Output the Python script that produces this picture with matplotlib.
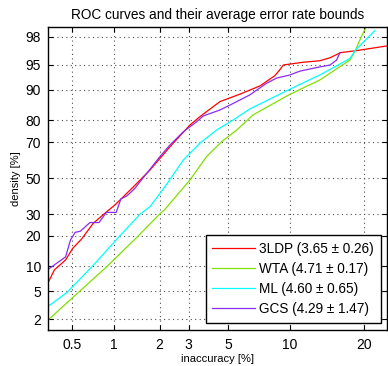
# -*- coding: utf-8 -*-
"""ROC curves on probit (normal deviate) axes, 4 methods."""
import math
from statistics import NormalDist
import numpy as np
import matplotlib
matplotlib.use('Agg')
import matplotlib.pyplot as plt

# --- data (percent) ---
ldp_x = [0.33, 0.37, 0.45, 0.51, 0.59, 0.72, 0.89, 1.02, 1.36, 1.74, 2.32, 3.05, 3.48,
         4.5, 5.75, 7.25, 8.56, 9.0, 9.36, 11.5, 13.5, 14.9, 16.4, 18.7, 24.5]
ldp_y = [6.4, 9.1, 11.7, 15.4, 18.7, 25.6, 31.1, 34.8, 45.0, 54.7, 67.6, 78.0, 81.4,
         86.7, 88.9, 91.0, 93.2, 94.2, 95.0, 95.4, 95.6, 96.0, 96.6, 96.8, 97.3]

wta_x = [0.33, 0.5, 0.89, 1.46, 2.0, 2.16, 3.05, 3.8, 4.6, 5.53, 6.7, 9.93, 13.5,
         17.8, 18.7, 19.6, 20.6]
wta_y = [1.95, 4.0, 9.8, 20.0, 30.0, 32.5, 48.9, 62.3, 70.2, 75.8, 82.1, 88.7, 92.3,
         95.7, 96.9, 98.0, 98.7]

ml_x = [0.33, 0.46, 0.70, 1.10, 1.50, 1.74, 2.16, 2.79, 3.48, 4.32, 5.3, 6.46, 9.86,
        13.5, 17.8, 18.7, 21.9]
ml_y = [3.1, 4.8, 9.8, 20.0, 30.0, 33.9, 45.0, 60.4, 69.4, 75.8, 80.1, 84.3, 90.0,
        93.3, 95.9, 96.9, 98.4]

gcs_x = [0.33, 0.45, 0.49, 0.53, 0.58, 0.68, 0.79, 0.89, 1.04, 1.12, 1.23, 1.39, 1.50,
         1.74, 2.01, 2.32, 2.79, 3.34, 3.64, 4.5, 5.1, 6.46, 7.8, 8.7, 10.0, 11.1,
         13.1, 14.9, 15.8, 16.3]
gcs_y = [9.2, 12.6, 18.4, 21.5, 22.0, 25.9, 25.9, 30.9, 30.9, 38.1, 39.8, 44.1, 47.9,
         55.1, 62.3, 68.5, 75.0, 79.4, 81.7, 83.9, 85.6, 88.7, 91.6, 92.7, 93.3, 94.0,
         94.6, 95.0, 95.7, 96.6]

labels = ['3LDP (3.65 ± 0.26)', 'WTA (4.71 ± 0.17)',
          'ML (4.60 ± 0.65)', 'GCS (4.29 ± 1.47)']
colors = ['#ff0000', '#80e000', '#00ffff', '#8c2cf0']

xticks = [0.5, 1, 2, 3, 5, 10, 20]
xticklabels = ['0.5', '1', '2', '3', '5', '10', '20']
yticks = [2, 5, 10, 20, 30, 50, 70, 80, 90, 95, 98]

# --- probit scale ---
_nd = NormalDist()
_ppf = np.vectorize(_nd.inv_cdf, otypes=[float])
_erf = np.vectorize(math.erf, otypes=[float])


def to_probit(p):
    p = np.clip(np.asarray(p, dtype=float) / 100.0, 1e-9, 1 - 1e-9)
    return _ppf(p)


def from_probit(z):
    z = np.asarray(z, dtype=float)
    return 100.0 * 0.5 * (1.0 + _erf(z / math.sqrt(2.0)))


plt.rcParams['font.family'] = ['Liberation Sans', 'DejaVu Sans']

fig = plt.figure(figsize=(3.88, 3.66), dpi=100)
ax = fig.add_axes([48 / 388, 1 - 330 / 366, 339 / 388, 303 / 366])
ax.set_xscale('function', functions=(to_probit, from_probit))
ax.set_yscale('function', functions=(to_probit, from_probit))

for xs, ys, c, lab in zip([ldp_x, wta_x, ml_x, gcs_x], [ldp_y, wta_y, ml_y, gcs_y],
                          colors, labels):
    ax.plot(xs, ys, color=c, lw=0.9, label=lab)

ax.set_xlim(0.33, 24.1)
ax.set_ylim(1.36, 98.6)
ax.set_xticks(xticks)
ax.set_xticklabels(xticklabels)
ax.set_yticks(yticks)
ax.set_yticklabels([str(t) for t in yticks])
ax.minorticks_off()

ax.grid(True, color='0.3', linestyle=(0, (1, 3)), lw=0.8)
ax.tick_params(direction='in', top=True, right=True, length=3.5, width=0.8,
               labelsize=10)
ax.tick_params(axis='x', pad=6)
ax.tick_params(axis='y', pad=5)
for s in ax.spines.values():
    s.set_linewidth(1.0)

ax.set_title('ROC curves and their average error rate bounds', fontsize=9.8, pad=6)
ax.set_xlabel('inaccuracy [%]', fontsize=8, labelpad=1)
ax.set_ylabel('density [%]', fontsize=8, labelpad=3)

leg = ax.legend(loc='lower right', bbox_to_anchor=(0.982, 0.024), fontsize=9.8,
                fancybox=False, edgecolor='k', framealpha=1, handlelength=3.1,
                handletextpad=0.35, borderpad=0.5, borderaxespad=0,
                labelspacing=0.45)
leg.get_frame().set_linewidth(1.0)

fig.savefig('out.png', dpi=100)
